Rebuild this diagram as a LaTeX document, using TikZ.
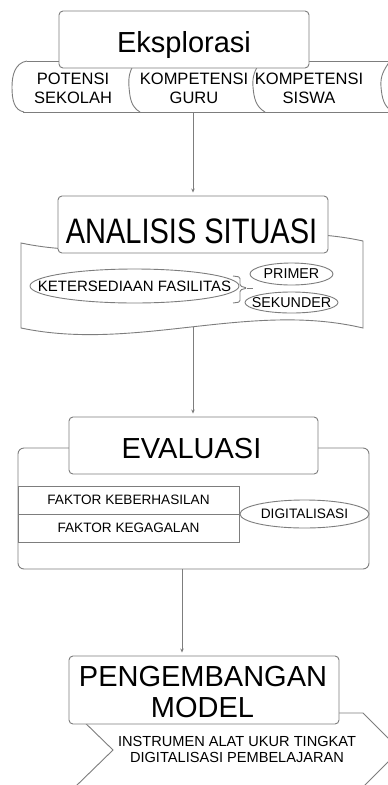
\documentclass[tikz,border=0pt]{standalone}
\usepackage{fontspec}
\setmainfont{Liberation Sans}
\usetikzlibrary{shapes.geometric,arrows.meta}
\definecolor{bordergray}{RGB}{125,125,125}
\begin{document}
\begin{tikzpicture}[x=1pt,y=-1pt,
  ln/.style={draw=bordergray, line width=0.9pt},
  bigbox/.style={ln, fill=white, rounded corners=4pt, inner sep=0pt},
  bigtext/.style={anchor=base, inner sep=0pt, font=\fontsize{29}{33}\selectfont},
  tabtext/.style={align=center, inner sep=0pt, font=\fontsize{16.5}{19}\selectfont},
  oval/.style={ln, ellipse, inner sep=0pt, fill=white},
  ovaltext/.style={inner sep=0pt},
  row/.style={ln, inner sep=0pt, minimum width=221pt, minimum height=28pt, font=\fontsize{13.6}{16}\selectfont},
  conn/.style={ln, -{Stealth[length=4pt,width=3.5pt]}, shorten >=3pt}]
\clip (0,0) rectangle (388,785);
\fill[white] (0,0) rectangle (388,785);

% ---- Eksplorasi tab bar
\draw[ln] (27,61) -- (390,61);
\draw[ln] (23,112) -- (390,112);
\draw[ln] (27,61) .. controls (15,63) and (12,75) .. (12,87) .. controls (12,100) and (14,110) .. (24,112);
\draw[ln] (136,61) to[out=235,in=95] (129,87) to[out=-85,in=150] (140,112);
\draw[ln] (261,61) to[out=235,in=95] (253,87) to[out=-85,in=150] (265,112);
\draw[ln] (390,61) to[out=235,in=95] (381,87) to[out=-85,in=150] (393,112);
\node[bigbox, minimum width=250pt, minimum height=57pt] (eks) at (184,39.5) {};
\node[bigtext] (ekst) at (184,52) {Eksplorasi};
\node[tabtext] (t1) at (73,88) {POTENSI\\SEKOLAH};
\node[tabtext] (t2) at (194,88) {KOMPETENSI\\GURU};
\node[tabtext] (t3) at (309,88) {KOMPETENSI\\SISWA};
\coordinate (barb) at (193,112);

% ---- Analisis situasi
\draw[ln, fill=white] (21,243) .. controls (135,267) and (249,216) .. (363,241) -- (363,328)
   .. controls (249,301) and (135,352) .. (21,328) -- cycle;
\coordinate (waveb) at (193,327);
\node[bigbox, minimum width=270pt, minimum height=57pt] (ana) at (193,224.5) {};
\node[bigtext] (anat) at (191.5,243) {\scalebox{1}[1.22]{ANALISIS SITUASI}};
\node[oval, minimum width=209pt, minimum height=34pt] (ket) at (134.5,286) {};
\node[ovaltext, font=\fontsize{15}{18}\selectfont] (kett) at (ket.center) {KETERSEDIAAN FASILITAS};
\node[oval, minimum width=83pt, minimum height=22pt] (pri) at (291.5,274) {};
\node[ovaltext, font=\fontsize{14.3}{17}\selectfont] (prit) at (pri.center) {PRIMER};
\node[oval, minimum width=93pt, minimum height=21pt] (sek) at (291.5,302.5) {};
\node[ovaltext, font=\fontsize{14.3}{17}\selectfont] (sekt) at (sek.center) {SEKUNDER};
\coordinate (brtip) at (253,288);
\draw[ln, rounded corners=1.5pt] (233,276) -- (240,277) -- (240,286) -- (247,288) -- (240,290) -- (240,302) -- (233,303);
\draw[ln] (247,288) -- (brtip);
\draw[conn] (barb) -- (ana.north);

% ---- Evaluasi
\node[ln, rounded corners=6pt, minimum width=351pt, minimum height=121pt, inner sep=0pt] (evout) at (193.5,508.5) {};
\node[row] (fk1) at (128.5,500) {FAKTOR KEBERHASILAN};
\node[row] (fk2) at (128.5,528) {FAKTOR KEGAGALAN};
\node[oval, minimum width=129pt, minimum height=28pt] (dig) at (304.5,514) {};
\node[ovaltext, font=\fontsize{13.7}{16}\selectfont] (digt) at (dig.center) {DIGITALISASI};
\node[bigbox, minimum width=249pt, minimum height=57pt] (eva) at (193.5,445.5) {};
\node[bigtext] (evat) at (191.5,458) {EVALUASI};
\draw[conn] (waveb) -- (waveb |- eva.north);

% ---- Pengembangan model
\draw[ln, fill=white] (75,713) -- (363,713) -- (400,750) -- (363,787) -- (75,787) -- (113,750) -- cycle;
\node[bigbox, minimum width=270pt, minimum height=68pt] (pm) at (204,690) {};
\node[bigtext] (pmt1) at (203,686) {PENGEMBANGAN};
\node[bigtext] (pmt2) at (202.5,717) {MODEL};
\node[align=center, inner sep=0pt, font=\fontsize{14.6}{16}\selectfont] (ins) at (237,749) {INSTRUMEN ALAT UKUR TINGKAT\\DIGITALISASI PEMBELAJARAN};
\coordinate (pmx) at (182,0);
\draw[conn] (evout.south -| pmx) -- (pm.north -| pmx);
\end{tikzpicture}
\end{document}
